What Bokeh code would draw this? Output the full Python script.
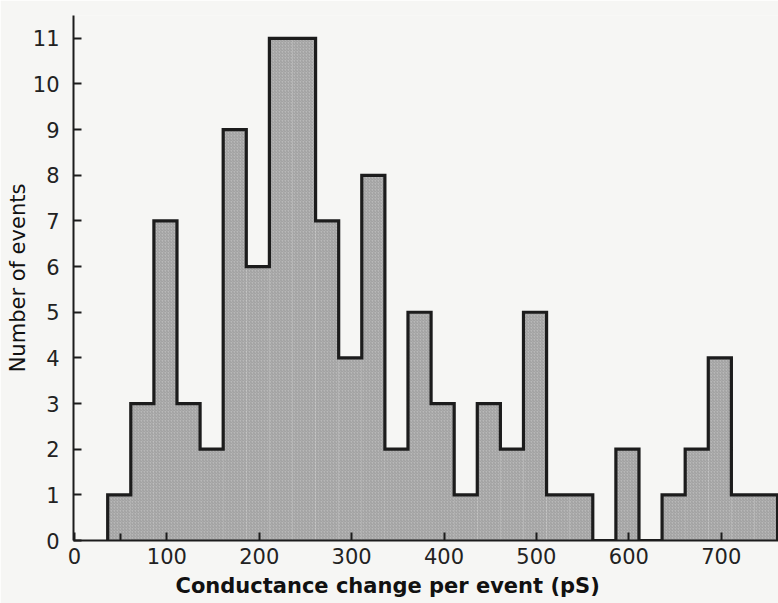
from bokeh.plotting import figure
from bokeh.models import Range1d, FixedTicker, Title
from bokeh.embed import file_html
from bokeh.resources import INLINE

# Histogram data: bins of 25 pS
bin_left = [36, 61, 86, 111, 136, 161, 186, 211, 236, 261, 286, 311, 336, 361, 386,
            411, 436, 461, 486, 511, 536, 561, 586, 611, 636, 661, 686, 711, 736]
bin_width = 25
counts = [1, 3, 7, 3, 2, 9, 6, 11, 11, 7, 4, 8, 2, 5, 3,
          1, 3, 2, 5, 1, 1, 0, 2, 0, 1, 2, 4, 1, 1]
x_ticks = [0, 100, 200, 300, 400, 500, 600, 700]
x_minor = [50]
y_ticks = [0, 1, 2, 3, 4, 5, 6, 7, 8, 9, 10, 11]
x_title = "Conductance change per event (pS)"
y_title = "Number of events"

bin_right = [b + bin_width for b in bin_left]

BG = "#f6f6f4"
INK = "#1c1c1c"
FONT = "DejaVu Sans"

p = figure(width=778, height=603, output_backend="svg", toolbar_location=None,
           x_range=Range1d(-1, 762), y_range=Range1d(0, 11.5),
           min_border_left=73, min_border_right=0, min_border_top=15,
           min_border_bottom=63)
p.background_fill_color = BG
p.border_fill_color = BG
p.outline_line_color = None
p.grid.visible = False

p.quad(left=bin_left, right=bin_right, bottom=0, top=counts,
       fill_color="#b8b8b8", line_color=None,
       hatch_pattern="right_diagonal_line", hatch_color="#909090",
       hatch_scale=3, hatch_weight=0.7)

# outer step contour of the histogram
xs = [bin_left[0]]
ys = [0]
for l, r, c in zip(bin_left, bin_right, counts):
    xs += [l, r]
    ys += [c, c]
xs.append(bin_right[-1])
ys.append(0)
p.line(xs, ys, line_color=INK, line_width=3.2, line_join="miter")

xa = p.xaxis[0]
ya = p.yaxis[0]
xa.ticker = FixedTicker(ticks=x_ticks, minor_ticks=x_minor)
ya.ticker = FixedTicker(ticks=y_ticks)
for ax in (xa, ya):
    ax.axis_line_color = INK
    ax.axis_line_width = 2
    ax.major_tick_in = 8
    ax.major_tick_out = 0
    ax.major_tick_line_color = INK
    ax.major_tick_line_width = 2
    ax.minor_tick_in = 7
    ax.minor_tick_out = 0
    ax.minor_tick_line_color = INK
    ax.minor_tick_line_width = 2
    ax.major_label_text_font = FONT
    ax.major_label_text_font_size = "21px"
    ax.major_label_text_color = "#222222"
    ax.axis_label_text_font = FONT
    ax.axis_label_text_font_style = "normal"
    ax.axis_label_text_color = "#111111"
ya.minor_tick_line_color = None

xa.major_label_standoff = 7

# x-axis title sits a little left of centre in the original
p.add_layout(Title(text=x_title, align="left", offset=102, standoff=10,
                   text_font=FONT, text_font_style="bold",
                   text_font_size="21px", text_color="#111111"), "below")

ya.major_label_standoff = 14
ya.axis_label = y_title
ya.axis_label_text_font_size = "21px"
ya.axis_label_standoff = 0

open("out.html", "w").write(file_html(p, INLINE))
